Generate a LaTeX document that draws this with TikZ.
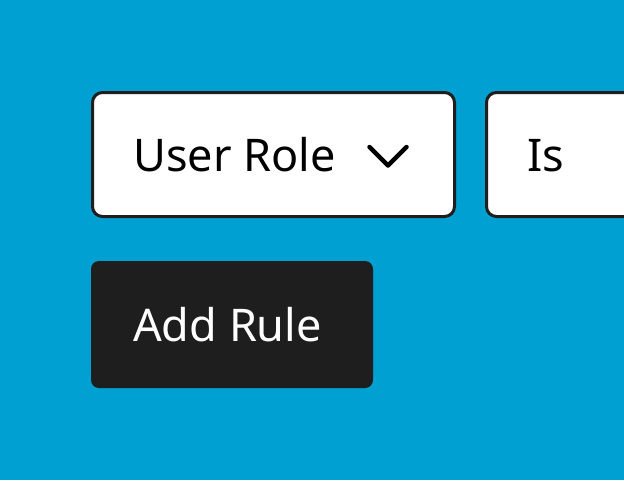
\documentclass[tikz,border=0pt]{standalone}
\usepackage{fontspec}
\setmainfont{Noto Sans}
\definecolor{wpblue}{HTML}{00A0D2}
\definecolor{darkgray}{HTML}{1E1E1E}
\tikzset{
  selectbox/.style={draw=darkgray, line width=3pt, fill=white, rounded corners=10pt, inner sep=0pt},
  rulebutton/.style={fill=darkgray, rounded corners=8pt, inner sep=0pt},
  label/.style={anchor=base west, inner sep=0pt, font=\fontsize{45}{54}\selectfont}
}
\begin{document}
\begin{tikzpicture}[x=1pt,y=-1pt]
        \fill[wpblue] (0,0) rectangle (624,480);
        \useasboundingbox (0,0) rectangle (624,480);
        \begin{scope}
        \clip (0,0) rectangle (624,480);
        \node[selectbox, minimum width=362pt, minimum height=124pt] (roleselect) at (273.5,154.5) {};
        \node[selectbox, minimum width=300pt, minimum height=124pt] (isselect) at (636.5,154.5) {};
        \end{scope}
        \node[rulebutton, minimum width=282pt, minimum height=127pt] (addrule) at (232,324.5) {};
        % texts
        \node[label] (roletext) at (133,171) {User Role};
        \node[label] (istext) at (527,171) {Is};
        \node[label, text=white] (addtext) at (133,341) {Add Rule};
        % chevron
        \draw[black, line width=4.5pt, line cap=round, line join=round] (369.5,147) -- (388,165.5) -- (406.5,147);
\end{tikzpicture}
\end{document}
